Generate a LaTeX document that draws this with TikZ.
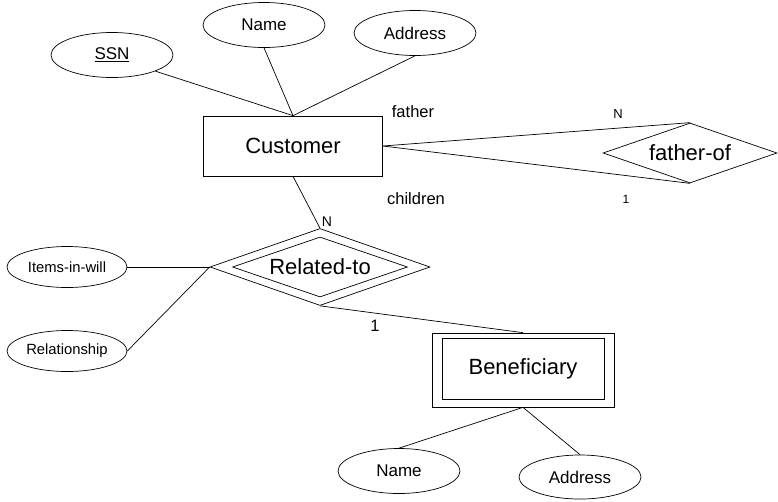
\documentclass[tikz,border=0pt]{standalone}
\usepackage{fontspec}
\setmainfont{Liberation Sans}
\usetikzlibrary{shapes.geometric}
\begin{document}
\begin{tikzpicture}[x=1pt,y=-1pt,line width=0.7pt,
  attr/.style={draw,ellipse,inner sep=0pt,minimum width=122pt,minimum height=45pt,font=\fontsize{17}{20}\selectfont},
  smallattr/.style={draw,ellipse,inner sep=0pt,minimum width=120pt,minimum height=41pt,font=\fontsize{14.8}{18}\selectfont},
  entity/.style={draw,rectangle,inner sep=0pt,font=\fontsize{22}{26}\selectfont},
  rel/.style={draw,diamond,inner sep=0pt,font=\fontsize{22}{26}\selectfont},
  role/.style={inner sep=0pt,font=\fontsize{16.5}{20}\selectfont},
  card/.style={inner sep=0pt}]
\useasboundingbox (0,0) rectangle (778,501);

% Customer entity and its attributes
\node[entity,minimum width=179pt,minimum height=60pt] (cust) at (293,146) {Customer};
\node[attr] (ssn) at (112,55) {\underline{SSN}};
\node[attr] (name) at (264,25) {Name};
\node[attr] (addr) at (415,33) {Address};
\draw (ssn.south east) -- (cust.north);
\draw (name.south) -- (cust.north);
\draw (addr.south) -- (cust.north);

% recursive relationship father-of
\node[rel,aspect=2.9,minimum width=174pt,minimum height=60pt] (fof) at (690,153) {father-of};
\draw (cust.east) -- (fof.north);
\draw (cust.east) -- (fof.south);
\node[role] (lfather) at (413,112) {father};
\node[role] (lchildren) at (416,199) {children};
\node[card,font=\fontsize{13}{15}\selectfont] (cN1) at (618,114) {N};
\node[card,font=\fontsize{12}{14}\selectfont] (c11) at (626,199) {1};

% identifying relationship Related-to
\node[rel,aspect=2.857,minimum width=220pt,minimum height=77pt] (relto) at (320,267) {};
\node[rel,aspect=2.917,minimum width=175pt,minimum height=60pt] (reltoin) at (320,267) {Related-to};
\draw (cust.south) -- (relto.north);
\node[card,font=\fontsize{14}{16}\selectfont] (cN2) at (327,222) {N};
\node[smallattr] (items) at (67,267) {Items-in-will};
\node[smallattr] (relsh) at (67,351) {Relationship};
\draw (items.east) -- (relto.west);
\draw (relsh.east) -- (relto.west);

% weak entity Beneficiary
\node[entity,minimum width=182pt,minimum height=74pt] (ben) at (523,370) {};
\node[entity,minimum width=162pt,minimum height=61pt] (benin) at (523,368.5) {Beneficiary};
\draw (relto.south) -- (ben.north);
\node[card,font=\fontsize{16.5}{19}\selectfont] (c12) at (375,326) {1};
\node[attr] (bname) at (399,471) {Name};
\node[attr,minimum height=44pt] (baddr) at (580,477) {Address};
\draw (ben.south) -- (bname.north);
\draw (ben.south) -- (baddr.north);
\end{tikzpicture}
\end{document}
